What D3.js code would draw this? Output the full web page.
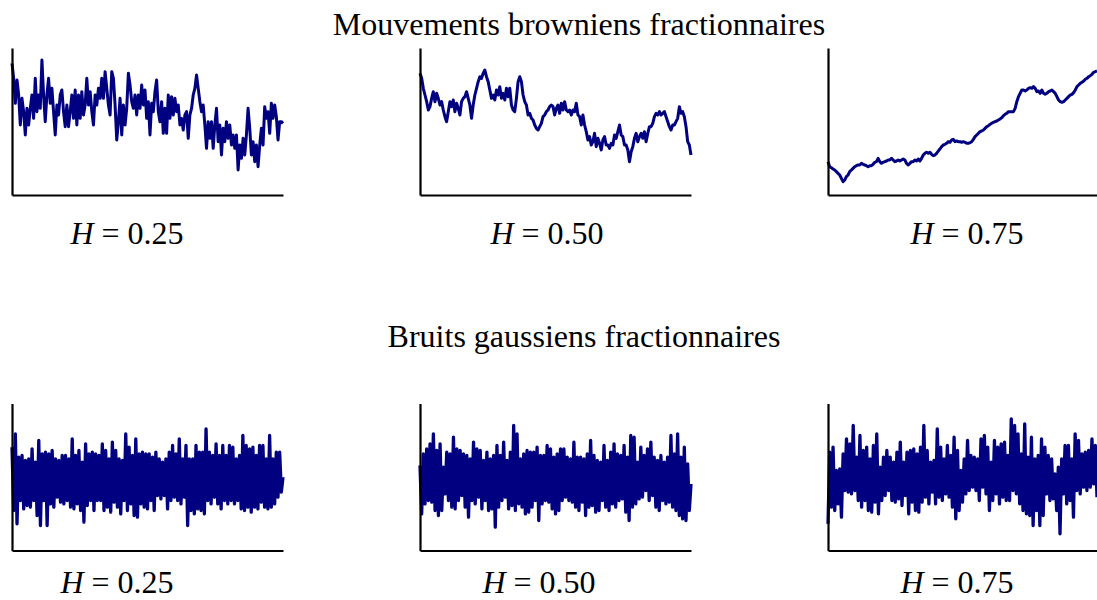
<!DOCTYPE html>
<html>
<head>
<meta charset="utf-8">
<script src="https://cdn.jsdelivr.net/npm/d3@7"></script>
<style>
  html, body { margin: 0; padding: 0; background: #fff; }
  svg { display: block; }
  text { font-family: "Liberation Serif", "Times New Roman", serif; fill: #000; }
</style>
</head>
<body>
<svg id="chart" width="1097" height="600"></svg>
<script>
// ---- Data (arbitrary units) ----
const rowTitles = ["Mouvements browniens fractionnaires", "Bruits gaussiens fractionnaires"];
const hurstLabels = ["0.25", "0.50", "0.75"];

// Fractional Brownian motions
const fbmH025 = [39.5,35,27.5,34.5,30,21,29,25,18,26,21,26,30,23,35,25,30,26,40.5,30,22,30,35,27.5,32,25,18,27,24,30,31.5,25,20.5,27,20.5,25,30,23,31.5,21,30,23,31,24,27,35,27,31,25,21,30,27,32,29,35,29,37,32,27,24,37,35,27,16.5,22,29,18,27,21,26,36.5,33,28,26,30,24,30,26,33,27,
  31.5,23,28,18,27.5,25,31,34.5,25,22,28,18.5,26,18.5,30,23,29.5,24,29,25,27,21,23,19.5,24,25,17,24,26,30,32,36,32,28,25,27,21,14,22,17,22,14,21,26,16,21,12,20,16,22,17,21,15,18,14,18,7.5,15,11,17,12,18,26,20,12,16,10,15,8.5,15,20,15,26.5,23,25,18.5,27.5,23,27,23.5,16.5,22,22,21.5];
const fbmH050 = [36.5,35,32,30,28,25.5,26.5,29,31,28,30.5,29,27,28,25.5,23.5,22,25,28,26.5,28.5,25,27.5,26,24,28,29,29.5,31,29,27,23,27,30,32,34,35.5,35,36.5,37.5,35.5,34,31.5,29,30,28.5,31.5,30,32.5,29,30.5,28.5,32,29.5,32,27,25.5,25,29,34,35.5,34,30,28,27,24,24.5,23,22.5,21,20,19.5,20.5,21.5,23.5,24,25,25.5,26.5,27,26.5,
  24,26,27,24.5,27.5,25.5,28,25.5,25,25.5,24,25.5,25,27.5,24,23.5,21,24,21,19,16.5,17.5,15,16,18.5,14.5,17,15.5,13.5,16.5,17.5,15,15,14,15.5,15,18,17,19,21,18,17.5,15,15,13.5,10,13,14.5,17,18.5,16,17.5,18.5,17,19,16,18.5,20.5,20.5,21.5,23.5,24.5,24,25,24,24.5,25,23.5,22,20.5,19.5,21,21,22,23,26.5,24.5,25,23.5,20.5,16,15,12];
const fbmH075 = [10,8.5,8.2,7.8,7.5,7,6.5,6,5,4,4.5,5.5,6,7,7.5,8,8.5,8.8,9,9,9.5,9.2,9,8.8,8.5,8.8,8.8,9.2,9.8,10,11,10,9.5,9.8,10,10.2,10.5,10.5,11,10.5,10,10.2,10.5,10.2,10.5,10.8,10.5,9.5,9,9.5,10,10,10.5,10.2,10.8,10.2,11,12,12.5,12.8,12.5,12.8,12.2,11.8,12,12.5,13.2,13.8,14.5,15,15.2,15.5,16,15.8,16.5,16.7,16,16.2,16,16,
  15.8,16,15.8,15.5,15.5,15.7,16,16.7,17.5,18,18.5,19,19.2,19.5,20,20.5,20.8,21.2,21.5,21.8,22,22.2,22.5,22.8,23.2,23.8,24.2,24.5,25,25,25,25,26,28,29.5,30.5,31.5,31.5,31.2,31.5,32,32.2,32,32.5,32,31,31.2,30.5,31.5,30.5,30.2,30.5,31,31.2,31.5,31,30.5,29.5,28.5,28,27.8,28,28.5,29,29.5,30,30.2,30.7,31.5,32.5,33,33.5,33.8,34.2,34.7,35,35.5,35.8,36.2,36.8,37,37.2];

// Fractional Gaussian noises
const fgnH025 = [31,12,35,8,28,15,28.5,12.5,27,13.5,27.5,13,30.5,15,26.5,10.5,33,7.5,29,15,29.5,7.5,29,14,30,13,27.5,16,27,14.5,28.5,14,28.5,15,27.5,13,33.5,12.5,28.5,14,30,12,26.5,8.5,32,13.5,29,15,29.5,12,29,15,28.5,15,32,12,30,13,27.5,11.5,32.5,14.5,30,13,27.5,11,27,15,35,12,31,14,28.5,10.5,33.5,10,29,14,29.5,13,
  29,12.5,29,15,28,12,29.5,16.5,27.5,15.5,26.5,16.5,27.5,12.5,29.5,15,31.5,16,29,15,33.5,14,27.5,16,31.5,7.5,27.5,12,27.5,11,31.5,12.5,29.5,12,29.5,11,36.5,15,29.5,14,28.5,16,32,14,28.5,12.5,31.5,15,28.5,14,31.5,15,31,14,27.5,15,28.5,12.5,34.5,12,31.5,13,30.5,11.5,31,13,28.5,12.5,31.5,14.5,31.5,13,27.5,12.5,34.5,13,27.5,14,29.5,16,29.5,17.5,22];
const fgnH050 = [25.5,11,29,14,30.5,15,32,14.5,35,12,30,10.5,32,12,25,17,29.5,15,29,13,34,12.5,30.5,15,30,16.5,29,13,28.5,10,27.5,15,32.5,14,30.5,16,30,12.5,27,15,29.5,12,27.5,12.5,28.5,7,31.5,13,28.5,15,32.5,16,27,12.5,29.5,13.5,37.5,12,35,14,27.5,13,29,11,30,11.5,29.5,13,29.5,15,31,9,28.5,14,28.5,15,31.5,14.5,30.5,12.5,
  28,11,29,12,30.5,15,30.5,16,28,15,27.5,14.5,32.5,13,28,12,28,14.5,27.5,10.5,29,13,33,13.5,28.5,11.5,27,12,26.5,15,31.5,13,27,12,29.5,14,32,13,29,15,28.5,15.5,31.5,11.5,28,9,34.5,13,34,14,26.5,15.5,31,16,28.5,18,30.5,15,32.5,16.5,28,13,27,12,28.5,15,26.5,14,28,14.5,34.5,13,29,12,35,10.5,28,9.5,31,9,26,12,20];
const fgnH075 = [8,29.5,13,31,12,24,14,24.5,10,29,18,33.5,17.5,32,17,37.5,18,28,15,34.5,13,30,15,31,12,27.5,11.5,31.5,14.5,35,11,25,15,28,16.5,30,18,28,15,26.5,14.5,29.5,15.5,32.5,13.5,26.5,16.5,29.5,11,30,14.5,30.5,12,29,11.5,31,14.5,37.5,16,30,14,26.5,17.5,27,14,36.5,16,31,15,27.5,17,31.5,16,28.5,13,34,9.5,30,12,
  24,14.5,27.5,17,33,18,28.5,19,28,18,27.5,15,33.5,19,34.5,17,31,12,26.5,15,33,17,31,14,32,16,32.5,15,28.5,15,39.5,18,37.5,17,35,14,29,12,38,11,28,10.5,34,7.5,27.5,12,28.5,7.5,33.5,10.5,31,17,28.5,15,27.5,15.5,23,12,25,5,27.5,17,31.5,14,31.5,15,27.5,10,35,18,33,17,29,19,29.5,18,30,19,33.5,20,31.5,16];

const panelSeries = [
  [fbmH025, fbmH050, fbmH075],
  [fgnH025, fgnH050, fgnH075]
];

// ---- Layout ----
const svg = d3.select("#chart");
const colRanges = [[12, 283], [420, 691], [828, 1097]];
const rowBase = [195, 550.5];
const panelHeight = 147;
const valueMax = 44.1;
const lineColor = "#000080";
const rowStroke = [3.0, 3.3];

const titlePos = [{x: 579, y: 35}, {x: 584, y: 347}];
const labelPos = [
  [{x: 127, y: 244}, {x: 547, y: 244}, {x: 967, y: 244}],
  [{x: 117, y: 593}, {x: 539, y: 593}, {x: 957, y: 593}]
];

rowTitles.forEach((t, r) => {
  svg.append("text")
    .attr("x", titlePos[r].x).attr("y", titlePos[r].y)
    .attr("text-anchor", "middle")
    .style("font-size", "32px")
    .text(t);
});

panelSeries.forEach((row, r) => {
  row.forEach((series, c) => {
    const x = d3.scaleLinear().domain([0, series.length - 1]).range(colRanges[c]);
    const y = d3.scaleLinear().domain([0, valueMax]).range([rowBase[r], rowBase[r] - panelHeight]);
    const g = svg.append("g");

    const line = d3.line().x((d, i) => x(i)).y(d => y(d));
    g.append("path")
      .datum(series)
      .attr("fill", "none")
      .attr("stroke", lineColor)
      .attr("stroke-width", rowStroke[r])
      .attr("stroke-linejoin", "round")
      .attr("d", line);

    const ax = g.append("g")
      .attr("transform", `translate(0,${rowBase[r]})`)
      .call(d3.axisBottom(x).ticks(0).tickSizeOuter(0));
    const ay = g.append("g")
      .attr("transform", `translate(${colRanges[c][0]},0)`)
      .call(d3.axisLeft(y).ticks(0).tickSizeOuter(0));
    [ax, ay].forEach(a => {
      a.selectAll(".tick").remove();
      a.select(".domain").attr("stroke", "#000").attr("stroke-width", 2.2);
    });

    const lbl = svg.append("text")
      .attr("x", labelPos[r][c].x).attr("y", labelPos[r][c].y)
      .attr("text-anchor", "middle")
      .style("font-size", "32px");
    lbl.append("tspan").style("font-style", "italic").text("H");
    lbl.append("tspan").text(" = " + hurstLabels[c]);
  });
});
</script>
</body>
</html>
